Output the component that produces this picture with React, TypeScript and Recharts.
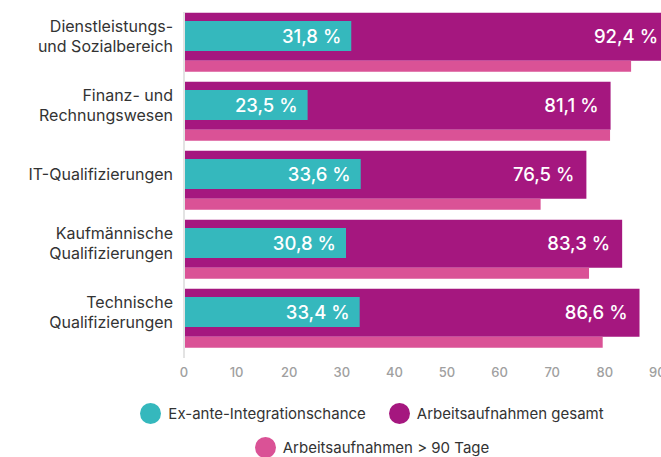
import { BarChart, Bar, XAxis, YAxis, Legend, LabelList } from "recharts";

const FONT = "Inter, 'Noto Sans', sans-serif";

const categories = [
  "Dienstleistungs-\nund Sozialbereich",
  "Finanz- und\nRechnungswesen",
  "IT-Qualifizierungen",
  "Kaufmännische\nQualifizierungen",
  "Technische\nQualifizierungen",
];
const exAnte = [31.8, 23.5, 33.6, 30.8, 33.4];
const gesamt = [92.4, 81.1, 76.5, 83.3, 86.6];
const ueber90 = [85.0, 81.0, 67.8, 77.0, 79.6];
const xTicks = [0, 10, 20, 30, 40, 50, 60, 70, 80, 90, 100];

const seriesNames = ["Ex-ante-Integrationschance", "Arbeitsaufnahmen gesamt", "Arbeitsaufnahmen > 90 Tage"];
const seriesColors = ["#35b8bd", "#a5177f", "#da5296"];

const data = categories.map((name, i) => ({
  name,
  exAnte: exAnte[i],
  gesamt: gesamt[i],
  ueber90: ueber90[i],
}));

const fmt = (v: number) => `${v.toFixed(1).replace(".", ",")} %`;

// labels sit on the purple bar's centre, not the band's centre
const TICK_SHIFT = -6;

function CategoryTick(props: any) {
  const { x, y, payload } = props;
  const lines = String(payload.value).split("\n");
  const lh = 20;
  const y0 = y + TICK_SHIFT - ((lines.length - 1) * lh) / 2;
  return (
    <text x={x} y={y0} textAnchor="end" fill="#333" fontSize={16} fontFamily={FONT}>
      {lines.map((l, i) => (
        <tspan key={i} x={x} dy={i === 0 ? "0.35em" : lh}>
          {l}
        </tspan>
      ))}
    </text>
  );
}

function renderLegend(props: any) {
  const payload = props.payload || [];
  const items = seriesNames.map((n, i) => {
    const p = payload.find((e: any) => e.value === n);
    return { name: n, color: (p && p.color) || seriesColors[i] };
  });
  return (
    <div style={{ height: 69, paddingTop: 8, boxSizing: "border-box" }}>
      <div
        style={{
          maxWidth: 500,
          margin: "0 auto",
          display: "flex",
          flexWrap: "wrap",
          justifyContent: "center",
          columnGap: 23,
        }}
      >
        {items.map((it) => (
          <div key={it.name} style={{ display: "flex", alignItems: "center", height: 34 }}>
            <span
              style={{
                display: "inline-block",
                width: 21,
                height: 21,
                borderRadius: "50%",
                background: it.color,
                marginRight: 7,
              }}
            />
            <span style={{ fontSize: 15, color: "#333", fontFamily: FONT }}>{it.name}</span>
          </div>
        ))}
      </div>
    </div>
  );
}

export default function App() {
  const labelStyle = { fill: "#fff", fontSize: 18.5, fontWeight: 500, fontFamily: FONT };
  return (
    <div
      style={{
        position: "fixed",
        left: 0,
        top: 0,
        width: 661,
        height: 457,
        overflow: "hidden",
        background: "#fff",
      }}
    >
      <BarChart
        width={744}
        height={457}
        data={data}
        layout="vertical"
        margin={{ top: 12, right: 34, bottom: 0, left: 0 }}
        barGap={0}
      >
        <XAxis
          type="number"
          domain={[0, 100]}
          ticks={xTicks}
          interval={0}
          axisLine={false}
          tickLine={false}
          tickMargin={4}
          height={30}
          tick={{ fill: "#a0a0a0", fontSize: 13, fontWeight: 500, fontFamily: FONT }}
        />
        <YAxis
          yAxisId="main"
          type="category"
          dataKey="name"
          width={184}
          interval={0}
          axisLine={{ stroke: "#e3e3e3", strokeWidth: 2 }}
          tickLine={false}
          tickSize={0}
          tickMargin={11}
          tick={<CategoryTick />}
          padding={{ top: -4.3, bottom: 5.3 }}
        />
        <YAxis
          yAxisId="teal"
          type="category"
          dataKey="name"
          hide
          padding={{ top: -11, bottom: 12 }}
        />
        <Legend verticalAlign="bottom" content={renderLegend} wrapperStyle={{ left: 0, width: 744 }} />
        <Bar
          yAxisId="main"
          dataKey="gesamt"
          name={seriesNames[1]}
          fill={seriesColors[1]}
          barSize={48}
          isAnimationActive={false}
        >
          <LabelList dataKey="gesamt" position="insideRight" offset={12} formatter={fmt} {...labelStyle} />
        </Bar>
        <Bar
          yAxisId="main"
          dataKey="ueber90"
          name={seriesNames[2]}
          fill={seriesColors[2]}
          barSize={11}
          isAnimationActive={false}
        />
        <Bar
          yAxisId="teal"
          dataKey="exAnte"
          name={seriesNames[0]}
          fill={seriesColors[0]}
          barSize={30}
          isAnimationActive={false}
        >
          <LabelList dataKey="exAnte" position="insideRight" offset={10} formatter={fmt} {...labelStyle} />
        </Bar>
      </BarChart>
    </div>
  );
}
